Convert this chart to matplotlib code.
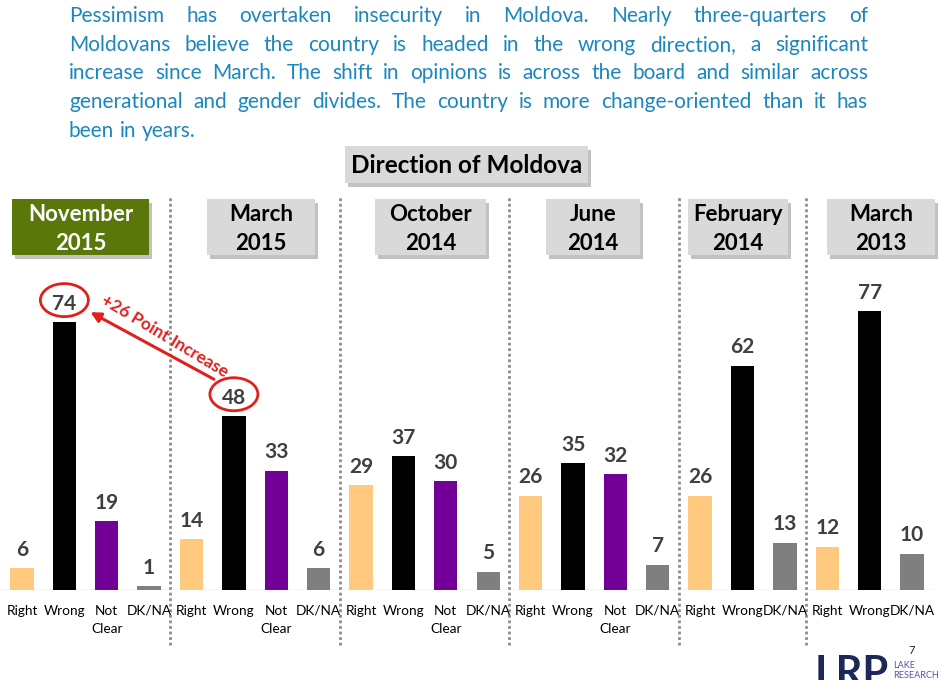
import matplotlib
matplotlib.use("Agg")
import matplotlib.pyplot as plt
from matplotlib.patches import Rectangle, Ellipse
import matplotlib.transforms as mtransforms

# ---------------- data ----------------
periods = ["November\n2015", "March\n2015", "October\n2014", "June\n2014", "February\n2014", "March\n2013"]
group_cats = [
    ["Right", "Wrong", "Not\nClear", "DK/NA"],
    ["Right", "Wrong", "Not\nClear", "DK/NA"],
    ["Right", "Wrong", "Not\nClear", "DK/NA"],
    ["Right", "Wrong", "Not\nClear", "DK/NA"],
    ["Right", "Wrong", "DK/NA"],
    ["Right", "Wrong", "DK/NA"],
]
group_vals = [
    [6, 74, 19, 1],
    [14, 48, 33, 6],
    [29, 37, 30, 5],
    [26, 35, 32, 7],
    [26, 62, 13],
    [12, 77, 10],
]
paragraph = [
    "Pessimism has overtaken insecurity in Moldova. Nearly three-quarters of",
    "Moldovans believe the country is headed in the wrong direction, a significant",
    "increase since March. The shift in opinions is across the board and similar across",
    "generational and gender divides. The country is more change-oriented than it has",
    "been in years.",
]
chart_title = "Direction of Moldova"
annot_text = "+26 Point Increase"

cat_colors = {"Right": "#FFC97F", "Wrong": "#000000", "Not\nClear": "#720096", "DK/NA": "#7F7F7F"}
FONT = "Lato"
plt.rcParams["font.family"] = [FONT, "DejaVu Sans"]

W, H = 942, 680
fig = plt.figure(figsize=(W / 100, H / 100), dpi=100)

# overlay axes in pixel coordinates
ov = fig.add_axes([0, 0, 1, 1], zorder=0)
ov.set_xlim(0, W)
ov.set_ylim(H, 0)
ov.axis("off")

# main axes
base_px, top_px = 590, 228
ax = fig.add_axes([0.8 / W, (H - base_px) / H, (933.2 - 0.8) / W, (base_px - top_px) / H], zorder=2)
ax.set_facecolor("none")
ax.set_xlim(-0.5, 21.5)
ax.set_ylim(0, 100)
for s in ax.spines.values():
    s.set_visible(False)
ax.set_yticks([])

xs, labels, vals, cols = [], [], [], []
group_bounds = []
i = 0
for cats, vs in zip(group_cats, group_vals):
    start = i
    for c, v in zip(cats, vs):
        xs.append(i); labels.append(c); vals.append(v); cols.append(cat_colors[c])
        i += 1
    group_bounds.append((start, i - 1))

ax.bar(xs, vals, width=0.55, color=cols, zorder=3)
ax.axhline(0, color="#D0D0D0", lw=1, zorder=2)
for x, v in zip(xs, vals):
    ax.annotate(str(v), (x, v), xytext=(0, 9), textcoords="offset points",
                ha="center", va="baseline", fontsize=15, fontweight="bold", color="#3F3F3F")

ax.set_xticks(xs)
ax.set_xticklabels(labels, fontsize=9.8, color="#000000")
ax.tick_params(axis="x", length=0, pad=10.5)
for lbl in ax.get_xticklabels():
    lbl.set_linespacing(1.6)
    lbl.set_verticalalignment("top")

# separators
trans = mtransforms.blended_transform_factory(ax.transData, ax.transAxes)
y0 = (base_px - 645) / (base_px - top_px)
y1 = (base_px - 197) / (base_px - top_px)
for (a, b), (c, d) in zip(group_bounds[:-1], group_bounds[1:]):
    xsep = (b + c) / 2
    ax.plot([xsep, xsep], [y0, y1], transform=trans, clip_on=False,
            color="#8C8C8C", lw=2, ls=(0, (1, 1)), zorder=1)

# header boxes
boxes = [(12, 149), (207, 315), (375, 486), (546, 640), (688, 788), (827, 935)]
by0, by1 = 199, 255
for k, ((bx0, bx1), p) in enumerate(zip(boxes, periods)):
    fc = "#5A780A" if k == 0 else "#D9D9D9"
    tc = "white" if k == 0 else "black"
    ov.add_patch(Rectangle((bx0 + 3, by0 + 4), bx1 - bx0, by1 - by0, facecolor="#A8A8A8", edgecolor="none", alpha=0.7))
    ov.add_patch(Rectangle((bx0, by0), bx1 - bx0, by1 - by0, facecolor=fc, edgecolor="none"))
    ov.text((bx0 + bx1) / 2, (by0 + by1) / 2 + 2, p, ha="center", va="center", fontsize=16,
            fontweight="bold", color=tc, linespacing=1.5)

# title box
tx0, tx1, ty0, ty1 = 345, 588, 146, 183
ov.add_patch(Rectangle((tx0 + 3, ty0 + 4), tx1 - tx0, ty1 - ty0, facecolor="#A8A8A8", edgecolor="none", alpha=0.7))
ov.add_patch(Rectangle((tx0, ty0), tx1 - tx0, ty1 - ty0, facecolor="#D9D9D9", edgecolor="none"))
ov.text((tx0 + tx1) / 2, (ty0 + ty1) / 2 + 1, chart_title, ha="center", va="center",
        fontsize=17.5, fontweight="bold", color="black")

# justified paragraph
renderer = fig.canvas.get_renderer()
left, right = 69, 868
baselines = [22, 50.7, 79.4, 108, 136.7]
pcolor = "#1B87BE"
for li, (line, yb) in enumerate(zip(paragraph, baselines)):
    words = line.split()
    ts = [ov.text(0, yb, w_, fontsize=15, color=pcolor, ha="left", va="baseline") for w_ in words]
    widths = [t.get_window_extent(renderer).width for t in ts]
    if li == len(paragraph) - 1:
        t1 = ov.text(0, 0, "a a", fontsize=15)
        t2 = ov.text(0, 0, "aa", fontsize=15)
        gap = t1.get_window_extent(renderer).width - t2.get_window_extent(renderer).width
        t1.remove(); t2.remove()
    else:
        gap = (right - left - sum(widths)) / (len(words) - 1)
    x = left
    for t, w_ in zip(ts, widths):
        t.set_x(x)
        x += w_ + gap

# annotation: ellipses and arrow
red = "#E0201B"
px_per_x = (933.2 - 0.8) / 22
px_per_y = (base_px - top_px) / 100
i74 = xs[1]; i48 = xs[5]
v74 = vals[1]; v48 = vals[5]
for ix, v in [(i74, v74), (i48, v48)]:
    ax.add_patch(Ellipse((ix, v + 22 / px_per_y), 48 / px_per_x, 33 / px_per_y,
                         facecolor="none", edgecolor=red, lw=2, zorder=4, clip_on=False))
ax.annotate("", xy=(i74 + 26 / px_per_x, v74 + 10 / px_per_y),
            xytext=(i48 - 20 / px_per_x, v48 + 37 / px_per_y),
            arrowprops=dict(arrowstyle="-|>,head_length=0.6,head_width=0.3", color=red, lw=2.2,
                            shrinkA=0, shrinkB=0), zorder=4)
# text sits just above the arrow line
tx_c = (i74 + i48) / 2 + 0.36
ty_c = v74 - 3.9
ax.text(tx_c, ty_c, annot_text, rotation=-31, rotation_mode="anchor",
        ha="center", va="center", fontsize=12.5, fontweight="bold", color=red, zorder=4)

# logo
ov.text(815, 655, "LRP", fontsize=30, fontweight="bold", color="#1C2857", ha="left", va="top")
ov.text(893, 665, "LAKE", fontsize=6.5, color="#5B4FA0", ha="left", va="center")
ov.text(893, 675, "RESEARCH", fontsize=6.5, color="#5B4FA0", ha="left", va="center")
ov.text(912, 651, "7", fontsize=8, color="#222222", ha="center", va="center")

fig.savefig("out.png", dpi=100)
